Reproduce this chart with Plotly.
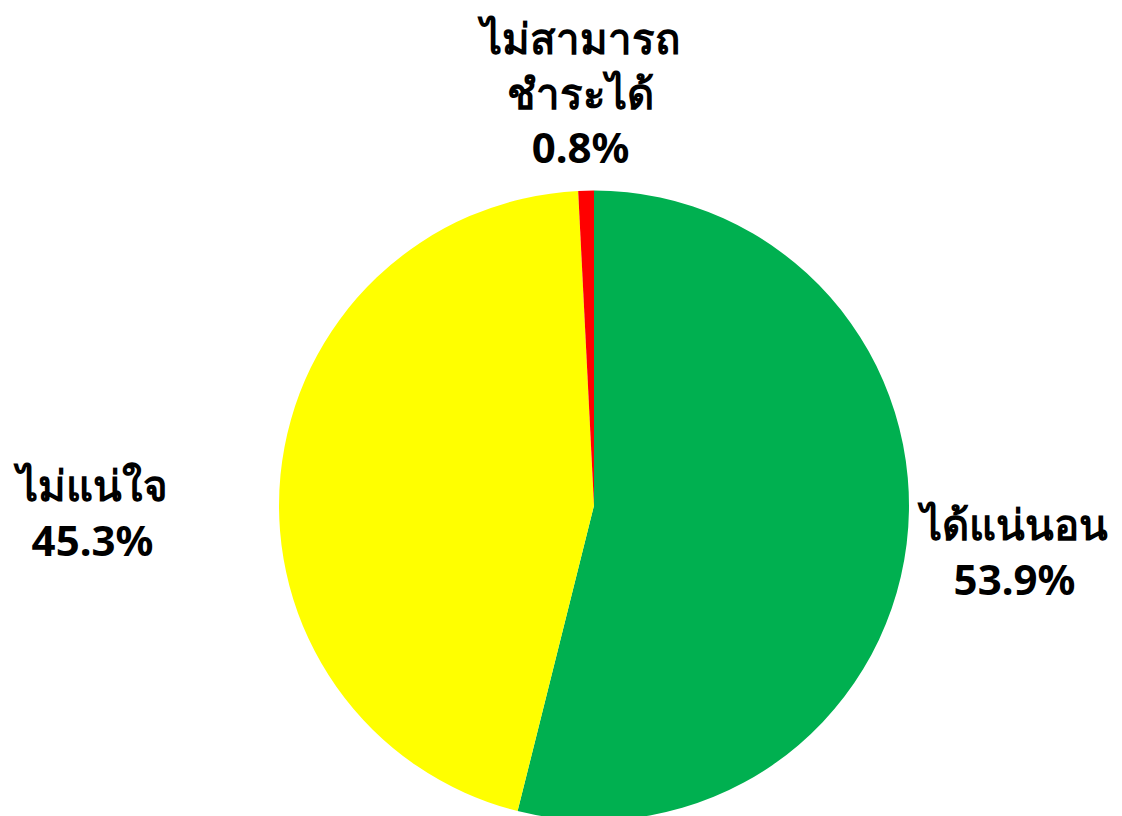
import plotly.graph_objects as go

labels = ["ได้แน่นอน", "ไม่แน่ใจ", "ไม่สามารถ<br>ชำระได้"]
values = [53.9, 45.3, 0.8]
colors = ["#00B050", "#FFFF00", "#FF0000"]

W, H = 1122, 816
OFF = 8  # page body margin
cx, cy, r = 594 - OFF, 502 - OFF, 315

fig = go.Figure(go.Pie(
    labels=labels, values=values, sort=False, direction="clockwise", rotation=0,
    marker=dict(colors=colors, line=dict(width=0)), textinfo="none",
    hoverinfo="label+percent", showlegend=False,
    domain=dict(x=[(cx - r) / W, (cx + r) / W], y=[0, 1 - (cy - r) / H]),
))

label_pos = [(1012 - OFF, 551 - OFF), (90 - OFF, 512 - OFF), (578 - OFF, 92 - OFF)]
annotations = []
for lab, val, (px, py) in zip(labels, values, label_pos):
    annotations.append(dict(
        x=px / W, y=1 - py / H, xref="paper", yref="paper",
        text=f"<b>{lab}<br>{val:.1f}%</b>", showarrow=False,
        xanchor="center", yanchor="middle",
        font=dict(size=42, color="black", family="Noto Sans, sans-serif"),
    ))

fig.update_layout(
    width=W, height=H, margin=dict(l=0, r=0, t=0, b=0),
    paper_bgcolor="white", plot_bgcolor="white", annotations=annotations,
)
fig.write_html("out.html")
